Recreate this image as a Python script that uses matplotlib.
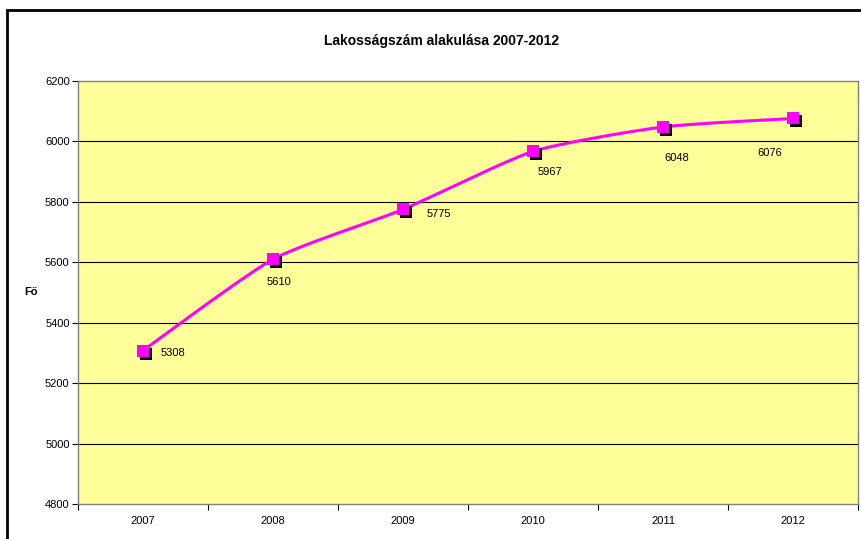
"""Lakosságszám alakulása 2007-2012 - Excel style smoothed line chart."""
import numpy as np
import matplotlib
matplotlib.use("Agg")
import matplotlib.pyplot as plt
from matplotlib.patches import Rectangle
from matplotlib.transforms import offset_copy

years = ["2007", "2008", "2009", "2010", "2011", "2012"]
population = [5308, 5610, 5775, 5967, 6048, 6076]
y_ticks = [4800, 5000, 5200, 5400, 5600, 5800, 6000, 6200]

# label offsets in pixels (dx, dy), dy positive = down
label_offsets = [(30, 2), (6, 23), (36, 5), (17, 21), (14, 31), (-23, 35)]

plt.rcParams["font.family"] = ["Liberation Sans", "DejaVu Sans"]


def smooth_curve(xs, ys, steps=30, tension=10.0):
    """Bezier smoothing like Excel (Catmull-Rom style control points)."""
    xs, ys = np.asarray(xs, float), np.asarray(ys, float)
    n = len(xs)
    out_x, out_y = [], []
    for i in range(n - 1):
        p0 = np.array([xs[max(i - 1, 0)], ys[max(i - 1, 0)]])
        p1 = np.array([xs[i], ys[i]])
        p2 = np.array([xs[i + 1], ys[i + 1]])
        p3 = np.array([xs[min(i + 2, n - 1)], ys[min(i + 2, n - 1)]])
        c1 = p1 + (p2 - p0) / tension
        c2 = p2 - (p3 - p1) / tension
        t = np.linspace(0, 1, steps)[:, None]
        pts = ((1 - t) ** 3) * p1 + 3 * ((1 - t) ** 2) * t * c1 + 3 * (1 - t) * t ** 2 * c2 + t ** 3 * p2
        out_x.extend(pts[:, 0])
        out_y.extend(pts[:, 1])
    return np.array(out_x), np.array(out_y)


fig = plt.figure(figsize=(8.61, 5.39), dpi=100)
fig.patch.set_facecolor("white")

# outer chart border (cut off at right and bottom)
fig.patches.append(Rectangle((7 / 861, -0.05), 1.1, 1 - 10 / 539 + 0.05, transform=fig.transFigure,
                             fill=False, edgecolor="black", linewidth=2, clip_on=False))

ax = fig.add_axes([78 / 861, 35 / 539, 780 / 861, 423 / 539])
ax.set_facecolor("#FFFF99")
x = np.arange(len(years))

ax.set_xlim(-0.5, len(years) - 0.5)
ax.set_ylim(4800, 6200)
ax.set_yticks(y_ticks)
ax.set_yticklabels([str(v) for v in y_ticks], fontsize=8)
ax.set_xticks(x)
ax.set_xticklabels(years, fontsize=8)
ax.set_xticks(np.arange(-0.5, len(years)), minor=True)
ax.tick_params(axis="x", which="major", length=0, pad=9)
ax.tick_params(axis="x", which="minor", length=4, width=0.8, direction="out")
ax.tick_params(axis="y", length=4, width=0.8, direction="out", pad=2)

for v in y_ticks[1:-1]:
    ax.axhline(v, color="black", linewidth=0.8, zorder=1)
for side in ax.spines.values():
    side.set_color("#808080")
    side.set_linewidth(1)

sx, sy = smooth_curve(x, population)
ax.plot(sx, sy, color="#FF00FF", linewidth=2.2, zorder=3)

# marker shadows
shadow = offset_copy(ax.transData, fig=fig, x=3, y=-3, units="dots")
ax.plot(x, population, linestyle="none", marker="s", markersize=8.5, color="black",
        markeredgewidth=0, transform=shadow, zorder=4)
ax.plot(x, population, linestyle="none", marker="s", markersize=8.5, color="#FF00FF",
        markeredgewidth=0, zorder=5)

for xi, val, (dx, dy) in zip(x, population, label_offsets):
    tr = offset_copy(ax.transData, fig=fig, x=dx, y=-dy, units="dots")
    ax.text(xi, val, str(val), transform=tr, fontsize=8, ha="center", va="center", zorder=6)

fig.text(441 / 861, 1 - 41 / 539, "Lakosságszám alakulása 2007-2012", fontsize=10,
         fontweight="bold", ha="center", va="center")
fig.text(31 / 861, 1 - 292 / 539, "Fő", fontsize=8, fontweight="bold", ha="center", va="center")

fig.savefig("out.png", dpi=100)
